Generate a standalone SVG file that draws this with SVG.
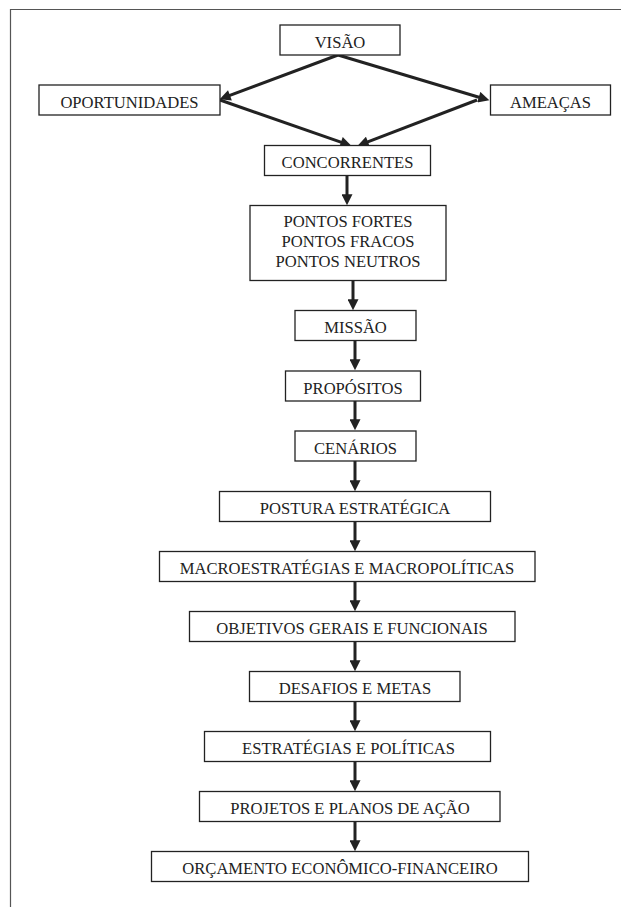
<svg xmlns="http://www.w3.org/2000/svg" width="621" height="907" viewBox="0 0 621 907">
<style>
.frame{fill:none;stroke:#555;stroke-width:1.2}
.box{fill:#fff;stroke:#222;stroke-width:1.3}
.lbl{font-family:"Liberation Serif","Times New Roman",serif;font-size:16.6px;fill:#222;text-anchor:middle}
.conn{fill:none;stroke:#222;stroke-width:3;marker-end:url(#ah)}
</style>
<defs>
<marker id="ah" viewBox="0 0 12 12" refX="4" refY="6" markerWidth="12" markerHeight="11" markerUnits="userSpaceOnUse" orient="auto">
<path d="M0,0 L12,6 L0,12 z" fill="#222"/>
</marker>
</defs>
<rect width="621" height="907" fill="#fff"/>
<path class="frame" d="M10.5,907 V9.5 H621"/>
<g id="connectors">
<line class="conn" x1="338" y1="55" x2="226.5" y2="96.7"/>
<line class="conn" x1="338" y1="55" x2="482.3" y2="98.2"/>
<line class="conn" x1="220" y1="100" x2="344.4" y2="143.4"/>
<line class="conn" x1="477" y1="100" x2="364.5" y2="143.1"/>
<line class="conn" x1="347" y1="175" x2="347" y2="198"/>
<line class="conn" x1="353" y1="281" x2="353" y2="303"/>
<line class="conn" x1="355" y1="341" x2="355" y2="363"/>
<line class="conn" x1="355" y1="401" x2="355" y2="423"/>
<line class="conn" x1="355" y1="461" x2="355" y2="484"/>
<line class="conn" x1="355" y1="522" x2="355" y2="544"/>
<line class="conn" x1="355" y1="582" x2="355" y2="604"/>
<line class="conn" x1="355" y1="642" x2="355" y2="664"/>
<line class="conn" x1="355" y1="702" x2="355" y2="724"/>
<line class="conn" x1="355" y1="762" x2="355" y2="784"/>
<line class="conn" x1="355" y1="822" x2="355" y2="844"/>
</g>
<g id="visao"><rect class="box" x="280" y="25" width="120" height="30"/><text class="lbl" x="340" y="48">VISÃO</text></g>
<g id="oportunidades"><rect class="box" x="39" y="85" width="181" height="30"/><text class="lbl" x="129.5" y="108">OPORTUNIDADES</text></g>
<g id="ameacas"><rect class="box" x="490.5" y="85" width="120" height="30"/><text class="lbl" x="550.5" y="108">AMEAÇAS</text></g>
<g id="concorrentes"><rect class="box" x="264.5" y="145.5" width="166" height="30"/><text class="lbl" x="347.5" y="168">CONCORRENTES</text></g>
<g id="pontos"><rect class="box" x="250" y="205.5" width="196" height="75"/><text class="lbl" x="348" y="226.5">PONTOS FORTES</text><text class="lbl" x="348" y="246.5">PONTOS FRACOS</text><text class="lbl" x="348" y="266.5">PONTOS NEUTROS</text></g>
<g id="missao"><rect class="box" x="295" y="310.5" width="121" height="30"/><text class="lbl" x="355.5" y="333">MISSÃO</text></g>
<g id="propositos"><rect class="box" x="285.5" y="371" width="135" height="30"/><text class="lbl" x="353" y="393.5">PROPÓSITOS</text></g>
<g id="cenarios"><rect class="box" x="295" y="431" width="121" height="30"/><text class="lbl" x="355.5" y="453.5">CENÁRIOS</text></g>
<g id="postura"><rect class="box" x="219.5" y="491.5" width="271" height="30"/><text class="lbl" x="355" y="514">POSTURA ESTRATÉGICA</text></g>
<g id="macro"><rect class="box" x="159.5" y="551.5" width="375.5" height="30"/><text class="lbl" x="347" y="574">MACROESTRATÉGIAS E MACROPOLÍTICAS</text></g>
<g id="objetivos"><rect class="box" x="189.5" y="611.5" width="325.5" height="30"/><text class="lbl" x="352" y="634">OBJETIVOS GERAIS E FUNCIONAIS</text></g>
<g id="desafios"><rect class="box" x="249.5" y="671.5" width="210.5" height="30"/><text class="lbl" x="355" y="694">DESAFIOS E METAS</text></g>
<g id="estrategias"><rect class="box" x="204.5" y="731.5" width="286" height="30"/><text class="lbl" x="348.5" y="754">ESTRATÉGIAS E POLÍTICAS</text></g>
<g id="projetos"><rect class="box" x="199.5" y="791.5" width="300.5" height="30"/><text class="lbl" x="350" y="814">PROJETOS E PLANOS DE AÇÃO</text></g>
<g id="orcamento"><rect class="box" x="151.5" y="851.5" width="377" height="30"/><text class="lbl" x="340" y="874">ORÇAMENTO ECONÔMICO-FINANCEIRO</text></g>
</svg>
